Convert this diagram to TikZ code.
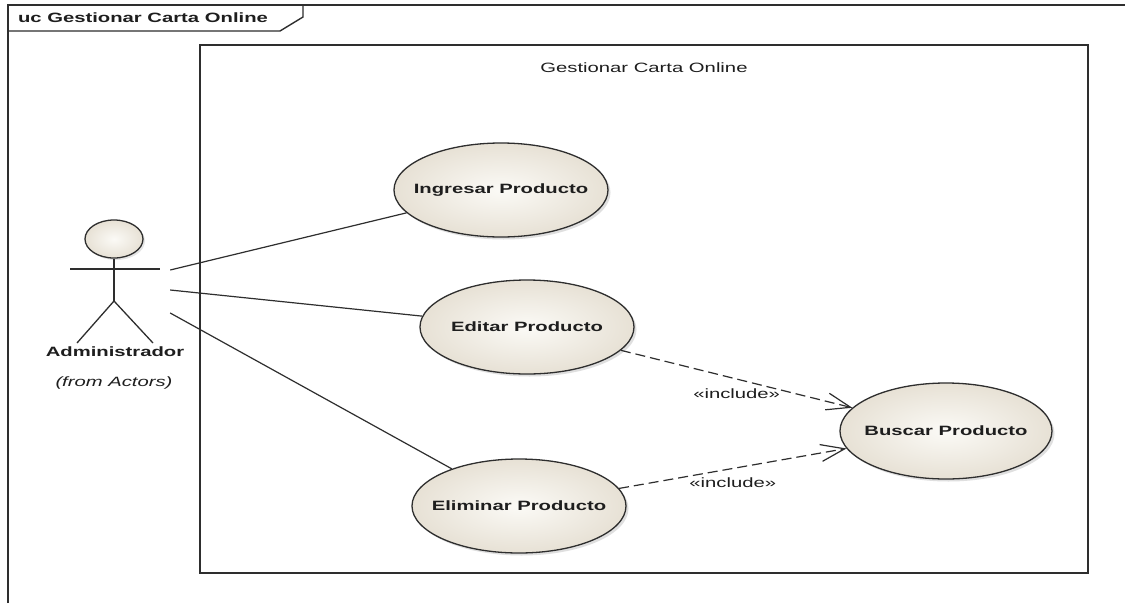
\documentclass[tikz,border=0pt]{standalone}
\usepackage{fontspec}
\setmainfont{Liberation Sans}[FakeStretch=1.5]
\usetikzlibrary{shapes.geometric,arrows.meta,shadows,calc}
\definecolor{ink}{HTML}{2E2E2E}
\definecolor{txt}{HTML}{1E1E1E}
\definecolor{ucin}{HTML}{FBFAF6}
\definecolor{ucout}{HTML}{E7E1D5}
\tikzset{
  basefont/.style={font=\fontsize{13.5pt}{16pt}\selectfont},
  ucase/.style={ellipse, draw=ink, line width=1.3pt, inner xsep=-14pt, inner ysep=0pt,
    minimum width=214pt, minimum height=94pt,
    inner color=ucin, outer color=ucout, text=txt,
    font=\fontsize{13.5pt}{16pt}\selectfont\bfseries,
    drop shadow={shadow xshift=2.5pt, shadow yshift=-2.5pt, opacity=0.25}},
  assoc/.style={draw=ink, line width=1.2pt},
  incl/.style={draw=ink, line width=1.2pt, dash pattern=on 10pt off 5pt,
    -{Straight Barb[length=24pt,width=17pt]}},
  lbl/.style={basefont, text=txt, inner sep=1pt},
  frameline/.style={draw=ink, line width=1.4pt},
  stick/.style={draw=ink, line width=1.3pt},
}
\begin{document}
\begin{tikzpicture}[x=1pt,y=-1pt]
  \useasboundingbox[fill=white] (0,0) rectangle (1125,603);

  % diagram frame with its name tab
  \draw[frameline] (8,603) -- (8,5) -- (1125,5);
  \draw[frameline] (8,31) -- (280,31) -- (303,17) -- (303,5);
  \node[lbl, font=\fontsize{13.5pt}{16pt}\selectfont\bfseries] (frametitle) at (143,18) {uc Gestionar Carta Online};

  % system boundary
  \node[draw=ink, line width=1.3pt, minimum width=888pt, minimum height=528pt, inner sep=0pt] (boundary) at (644,309) {};
  \node[lbl] (systitle) at (644,68) {Gestionar Carta Online};

  % actor
  \node[ellipse, draw=ink, line width=1.3pt, minimum width=58pt, minimum height=38pt, inner sep=0pt,
        inner color=ucin, outer color=ucout,
        drop shadow={shadow xshift=2pt, shadow yshift=-2pt, opacity=0.2}] (head) at (114,239) {};
  \coordinate (hip) at (114,301);
  \coordinate (lhand) at (70,269);
  \coordinate (rhand) at (160,269);
  \coordinate (lfoot) at (77,343);
  \coordinate (rfoot) at (153,343);
  \draw[stick] (head.south) -- (hip);
  \draw[stick] (lhand) -- (rhand);
  \draw[stick] (lfoot) -- (hip) -- (rfoot);
  \node[lbl, font=\fontsize{13.5pt}{16pt}\selectfont\bfseries] (aname) at (115,352) {Administrador};
  \node[lbl, font=\fontsize{13.5pt}{16pt}\selectfont\itshape] (afrom) at (114,383) {(from Actors)};
  \node[minimum width=110pt, minimum height=130pt, inner sep=0pt] (actor) at (115,283) {};

  % use cases
  \node[ucase] (ing) at (501,190) {Ingresar Producto};
  \node[ucase] (edit) at (527,327) {Editar Producto};
  \node[ucase] (elim) at (519,506) {Eliminar Producto};
  \node[ucase, minimum width=212pt, minimum height=96pt] (busc) at (946,431) {Buscar Producto};

  % associations
  \draw[assoc] ($(actor.east)+(0,-13)$) -- (ing);
  \draw[assoc] ($(actor.east)+(0,7)$) -- (edit);
  \draw[assoc] ($(actor.east)+(0,30)$) -- (elim);

  % include dependencies
  \draw[incl] (edit) -- (busc) node[lbl, pos=0.5, yshift=-15pt] (inc1) {«include»};
  \draw[incl] (elim) -- (busc) node[lbl, pos=0.5, yshift=-14pt] (inc2) {«include»};
\end{tikzpicture}
\end{document}
